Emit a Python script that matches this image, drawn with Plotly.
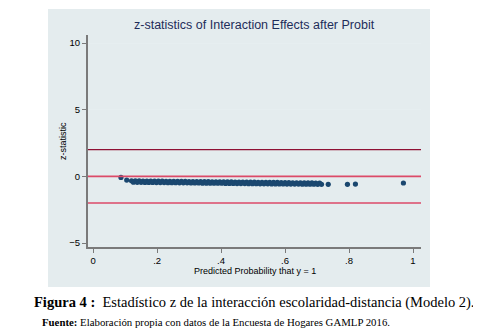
import plotly.graph_objects as go

# ---- data ----
prob_a = [0.087, 0.105, 0.120, 0.132, 0.144, 0.156, 0.168, 0.180, 0.192, 0.204, 0.216, 0.228,
          0.240, 0.252, 0.264, 0.276, 0.288, 0.300, 0.312, 0.324, 0.336, 0.348, 0.360,
          0.372, 0.384, 0.396, 0.408, 0.420, 0.432, 0.444, 0.456, 0.468, 0.480, 0.492,
          0.504, 0.516, 0.528, 0.540, 0.552, 0.564, 0.576, 0.588, 0.600, 0.612, 0.624,
          0.636, 0.648, 0.660, 0.672, 0.684, 0.696, 0.708]
z_a = [-0.08, -0.28, -0.33, -0.34, -0.34, -0.35, -0.35, -0.35, -0.36, -0.36, -0.36, -0.37,
       -0.37, -0.37, -0.38, -0.38, -0.38, -0.39, -0.39, -0.39, -0.40, -0.40, -0.40,
       -0.41, -0.41, -0.41, -0.42, -0.42, -0.42, -0.43, -0.43, -0.43, -0.44, -0.44,
       -0.44, -0.45, -0.45, -0.45, -0.46, -0.46, -0.46, -0.47, -0.47, -0.47, -0.48,
       -0.48, -0.48, -0.49, -0.49, -0.49, -0.50, -0.50]
prob_b = [0.126, 0.138, 0.150, 0.162, 0.174, 0.186, 0.198, 0.210, 0.222, 0.234, 0.246,
          0.258, 0.270, 0.282, 0.294, 0.306, 0.318, 0.330, 0.342, 0.354, 0.366, 0.378,
          0.390, 0.402, 0.414, 0.426, 0.438, 0.450, 0.462, 0.474, 0.486, 0.498, 0.510,
          0.522, 0.534, 0.546, 0.558, 0.570, 0.582, 0.594, 0.606, 0.618, 0.630, 0.642,
          0.654, 0.666, 0.678, 0.690, 0.702, 0.714, 0.735, 0.795, 0.820, 0.970]
z_b = [-0.44, -0.45, -0.45, -0.46, -0.46, -0.46, -0.47, -0.47, -0.47, -0.48, -0.48,
       -0.48, -0.49, -0.49, -0.49, -0.50, -0.50, -0.50, -0.51, -0.51, -0.51, -0.52,
       -0.52, -0.52, -0.53, -0.53, -0.53, -0.54, -0.54, -0.54, -0.55, -0.55, -0.55,
       -0.56, -0.56, -0.56, -0.57, -0.57, -0.57, -0.57, -0.58, -0.58, -0.58, -0.58,
       -0.59, -0.59, -0.59, -0.59, -0.60, -0.60, -0.60, -0.60, -0.58, -0.50]
ref_lines = [2, 0, -2]
x_ticks = [0, 0.2, 0.4, 0.6, 0.8, 1]
x_tick_labels = ["0", ".2", ".4", ".6", ".8", "1"]
y_ticks = [-5, 0, 5, 10]

# the page body adds an 8px margin, so the figure is drawn 8px smaller and shifted
OFF = 8
W, H = 481 - OFF, 329 - OFF
L, R, T, B = 88 - OFF, 421 - OFF, 35 - OFF, 247 - OFF


def px(xp):
    return (xp - OFF - L) / (R - L)


def py(yp):
    return (B - (yp - OFF)) / (B - T)


fig = go.Figure()
fig.add_trace(go.Scatter(x=prob_a + prob_b, y=z_a + z_b, mode="markers",
                         marker=dict(color="#1a476f", size=5.2, line=dict(width=0)),
                         showlegend=False, cliponaxis=False))

shapes = [dict(type="rect", xref="paper", yref="paper", x0=px(48), x1=px(430),
               y0=py(287), y1=py(9), fillcolor="#e4ecee", line=dict(width=0), layer="below")]
colors = {2: "#8e1033", 0: "#dc4a68", -2: "#dc4a68"}
widths = {2: 1.2, 0: 1.6, -2: 1.6}
for v in ref_lines:
    shapes.append(dict(type="line", xref="paper", yref="y", x0=0, x1=1, y0=v, y1=v,
                       line=dict(color=colors[v], width=widths[v]), layer="above"))

ann = [
    dict(text="z-statistics of Interaction Effects after Probit", x=px(254), y=py(25),
         xref="paper", yref="paper", showarrow=False, xanchor="center", yanchor="middle",
         font=dict(family="Liberation Sans", size=12.5, color="#1e2d5a")),
    dict(text="z-statistic", x=px(63), y=py(141), xref="paper", yref="paper",
         showarrow=False, textangle=-90, xanchor="center", yanchor="middle",
         font=dict(family="Liberation Sans", size=9, color="#000000")),
    dict(text="Predicted Probability that y = 1", x=px(255), y=py(271), xref="paper",
         yref="paper", showarrow=False, xanchor="center", yanchor="middle",
         font=dict(family="Liberation Sans", size=9, color="#000000")),
    dict(text="<b>Figura 4 :</b>  Estadístico z de la interacción escolaridad-distancia (Modelo 2).",
         x=px(32), y=py(302), xref="paper", yref="paper", showarrow=False,
         xanchor="left", yanchor="middle",
         font=dict(family="Liberation Serif", size=14.5, color="#000000")),
    dict(text="<b>Fuente:</b> Elaboración propia con datos de la Encuesta de Hogares GAMLP 2016.",
         x=px(40), y=py(322), xref="paper", yref="paper", showarrow=False,
         xanchor="left", yanchor="middle",
         font=dict(family="Liberation Serif", size=10.8, color="#000000")),
]

fig.update_layout(
    width=W, height=H, margin=dict(l=L, r=W - R, t=T, b=H - B, pad=0),
    paper_bgcolor="white", plot_bgcolor="white",
    shapes=shapes, annotations=ann,
    xaxis=dict(range=[-0.016, 1.025], tickvals=x_ticks, ticktext=x_tick_labels,
               showgrid=False, zeroline=False, showline=True, linecolor="#7a7a7a",
               linewidth=2, ticks="outside", ticklen=4, tickcolor="#7a7a7a",
               tickfont=dict(family="Liberation Sans", size=9.5, color="#000000")),
    yaxis=dict(range=[-5.3, 10.6], tickvals=y_ticks, showgrid=True, gridcolor="#e6eef0",
               gridwidth=1, zeroline=False, showline=True, linecolor="#7a7a7a",
               linewidth=2, ticks="outside", ticklen=4, tickcolor="#7a7a7a",
               tickfont=dict(family="Liberation Sans", size=9.5, color="#000000")),
)

fig.write_html("out.html")
